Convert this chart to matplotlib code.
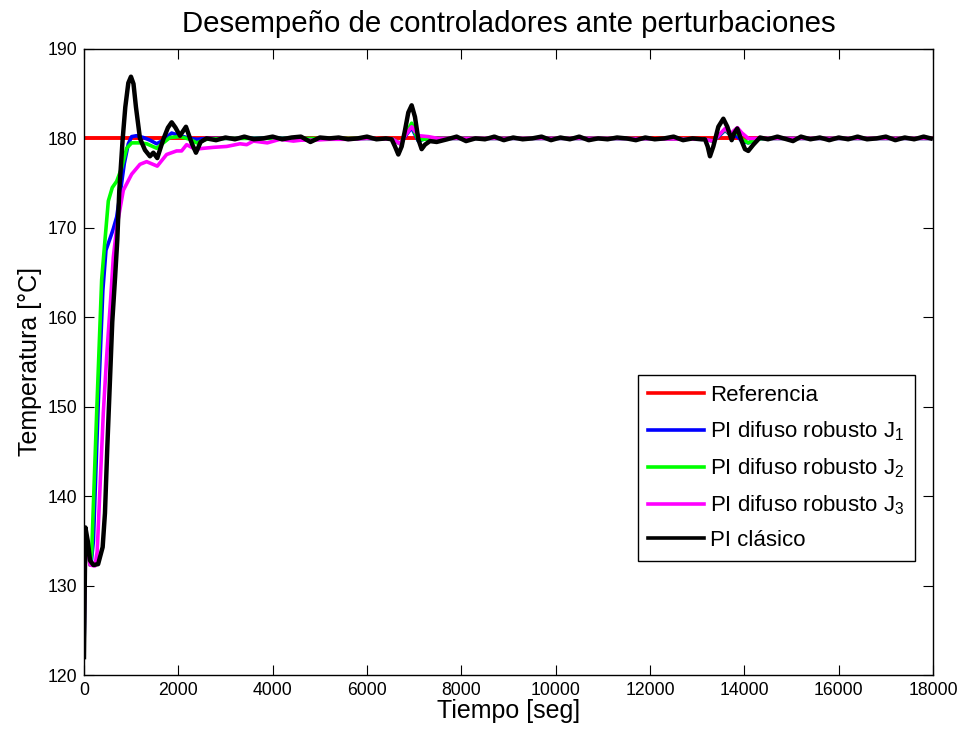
import numpy as np
import matplotlib
matplotlib.use('Agg')
import matplotlib.pyplot as plt

plt.rcParams['font.family'] = ['Liberation Sans', 'DejaVu Sans']
plt.rcParams['mathtext.fontset'] = 'custom'
plt.rcParams['mathtext.rm'] = 'Liberation Sans'
plt.rcParams['mathtext.it'] = 'Liberation Sans'

# referencia
ref_t = [0, 17950]
ref_y = [180, 180]

# PI difuso robusto J1 (azul)
j1_t = [0, 30, 80, 150, 200, 300, 400, 466, 565, 622, 693, 777, 855, 940, 1011, 1116, 1258,
        1400, 1541, 1682, 1859, 2035, 2250, 2400, 2600, 3000, 4000, 5000, 6000, 6550,
        6700, 6820, 6947, 7020, 7088, 7200, 7400, 9000, 11000, 13150, 13342, 13450,
        13590, 13700, 13850, 13950, 14083, 14250, 14500, 16000, 17950]
j1_y = [122.0, 136.0, 134.0, 132.4, 135.0, 150.0, 163.0, 167.5, 169.0, 169.9, 171.2, 174.2,
        177.2, 179.4, 180.2, 180.3, 180.1, 179.8, 179.4, 179.8, 180.6, 180.3, 180.0, 179.9,
        180.0, 180.0, 180.05, 179.95, 180.0, 179.9, 179.4, 180.3, 181.2, 180.4, 179.7,
        179.9, 180.0, 180.0, 180.0, 179.9, 179.7, 180.2, 180.9, 180.4, 180.2, 179.7,
        179.5, 179.9, 180.0, 180.0, 180.0]

# PI difuso robusto J2 (verde)
j2_t = [0, 30, 80, 127, 163, 269, 375, 445, 516, 600, 693, 799, 905, 1011, 1187, 1330,
        1541, 1682, 1823, 2035, 2247, 2388, 2600, 3000, 4000, 5000, 6000, 6550, 6700,
        6820, 6947, 7020, 7088, 7200, 7400, 9000, 11000, 13150, 13342, 13450, 13590,
        13700, 13850, 13950, 14083, 14250, 14500, 16000, 17950]
j2_y = [122.0, 136.0, 134.0, 132.3, 133.6, 149.3, 164.2, 168.6, 173.0, 174.5, 175.2,
        176.7, 178.9, 179.5, 179.5, 179.4, 178.9, 179.5, 180.1, 180.2, 179.9, 179.5,
        179.9, 180.0, 180.0, 180.0, 180.0, 179.9, 179.4, 180.5, 181.7, 180.6, 179.8,
        179.9, 180.0, 180.0, 180.0, 179.9, 179.7, 180.3, 181.0, 180.4, 180.6, 179.9,
        179.5, 179.9, 180.0, 180.0, 180.0]

# PI difuso robusto J3 (magenta)
j3_t = [0, 30, 80, 127, 233, 280, 410, 480, 565, 622, 693, 834, 1011, 1187, 1328, 1554,
        1752, 1964, 2070, 2176, 2353, 2742, 3025, 3308, 3450, 3591, 3887, 4157, 4439,
        4600, 4864, 5200, 5654, 6000, 6550, 6700, 6820, 6947, 7020, 7100, 7300, 7500,
        9000, 11000, 13150, 13342, 13450, 13590, 13700, 13850, 13950, 14083, 14250,
        14500, 16000, 17950]
j3_y = [122.0, 136.0, 134.0, 132.3, 132.2, 133.8, 149.3, 155.5, 162.0, 166.7, 170.0,
        174.2, 176.0, 177.1, 177.4, 176.9, 178.2, 178.6, 178.6, 179.3, 178.8, 179.0,
        179.1, 179.4, 179.3, 179.7, 179.5, 179.9, 179.7, 179.8, 179.8, 179.9, 179.9,
        180.0, 179.9, 179.4, 180.4, 181.3, 180.8, 180.3, 180.2, 180.0, 180.0, 180.0,
        179.9, 179.7, 180.3, 181.1, 180.5, 181.2, 180.6, 180.0, 180.0, 180.0, 180.0,
        180.0]

# PI clasico (negro)
pi_t = [0, 30, 80, 130, 200, 300, 396, 445, 495, 551, 600, 660, 706, 749, 820, 876, 940,
        996, 1050, 1102, 1187, 1293, 1399, 1470, 1554, 1682, 1780, 1859, 1940, 2035, 2162,
        2282, 2374, 2473, 2600, 2800, 3000, 3200, 3400, 3600, 3800, 4000, 4200, 4400,
        4600, 4800, 5000, 5200, 5400, 5600, 5800, 6000, 6200, 6400, 6523, 6593, 6664,
        6735, 6805, 6876, 6947, 7017, 7088, 7159, 7229, 7335, 7476, 7700, 7900, 8100,
        8300, 8500, 8700, 8900, 9100, 9300, 9500, 9700, 9900, 10100, 10300, 10500, 10700,
        10900, 11100, 11300, 11500, 11700, 11900, 12100, 12300, 12500, 12700, 12900,
        13100, 13165, 13222, 13271, 13342, 13448, 13554, 13639, 13731, 13787, 13850,
        13943, 14013, 14083, 14190, 14331, 14500, 14700, 14900, 15031, 15200, 15400,
        15600, 15800, 16000, 16200, 16400, 16600, 16800, 17000, 17200, 17400, 17600,
        17800, 17950]
pi_y = [122.0, 136.5, 135.0, 132.8, 132.3, 132.4, 134.3, 138.1, 145.5, 153.0, 159.5,
        164.5, 168.6, 174.2, 179.9, 183.5, 186.2, 186.9, 186.1, 183.5, 180.0, 178.7,
        178.0, 178.4, 177.8, 179.9, 181.2, 181.8, 181.2, 180.3, 181.3, 179.5, 178.4,
        179.6, 180.0, 179.8, 180.1, 179.9, 180.2, 179.9, 180.0, 180.2, 179.9, 180.1,
        180.2, 179.6, 180.1, 180.0, 180.1, 179.9, 180.0, 180.2, 179.9, 180.0, 179.9,
        179.1, 178.2, 179.1, 180.9, 182.9, 183.7, 182.4, 179.9, 178.8, 179.3, 179.7,
        179.6, 179.9, 180.2, 179.7, 180.0, 179.9, 180.2, 179.8, 180.1, 179.9, 180.0,
        180.2, 179.8, 180.1, 179.9, 180.2, 179.8, 180.0, 179.9, 180.1, 180.0, 179.8,
        180.1, 179.9, 180.0, 180.2, 179.8, 180.0, 179.9, 179.9, 179.1, 178.0, 179.1,
        181.3, 182.2, 181.3, 179.8, 180.6, 181.1, 179.7, 178.8, 178.6, 179.3, 180.1,
        179.9, 180.2, 179.9, 179.7, 180.2, 179.9, 180.1, 179.8, 180.1, 179.9, 180.2,
        179.9, 180.0, 180.2, 179.8, 180.1, 179.9, 180.2, 180.0]

labels = ['Referencia', 'PI difuso robusto J$_1$', 'PI difuso robusto J$_2$',
          'PI difuso robusto J$_3$', 'PI clásico']
colors = ['#ff0000', '#0000ff', '#00ff00', '#ff00ff', '#000000']
widths = [2.8, 2.6, 2.6, 2.6, 3.2]

fig = plt.figure(figsize=(9.63, 7.33), dpi=100)
ax = fig.add_axes([0.0872, 0.0791, 0.8817, 0.8541])

series = [(ref_t, ref_y), (j1_t, j1_y), (j2_t, j2_y), (j3_t, j3_y), (pi_t, pi_y)]
for (t, y), c, lw, lab in zip(series, colors, widths, labels):
    ax.plot(t, y, color=c, lw=lw, label=lab, solid_joinstyle='round')

ax.set_xlim(0, 18000)
ax.set_ylim(120, 190)
ax.set_xticks(np.arange(0, 18001, 2000))
ax.set_yticks(np.arange(120, 191, 10))
ax.tick_params(direction='in', top=True, right=True, length=7, width=0.8,
               labelsize=12.7, pad=5)
for s in ax.spines.values():
    s.set_linewidth(1.0)

ax.set_title('Desempeño de controladores ante perturbaciones', fontsize=21.2, pad=12)
ax.set_xlabel('Tiempo [seg]', fontsize=18, labelpad=0)
ax.set_ylabel('Temperatura [°C]', fontsize=18, labelpad=4)

leg = ax.legend(loc='upper left', bbox_to_anchor=(0.6525, 0.479), borderaxespad=0,
                fontsize=16, fancybox=False, framealpha=1, edgecolor='black',
                handlelength=2.5, handletextpad=0.3, borderpad=0.45, labelspacing=0.6)
leg.get_frame().set_linewidth(1.0)
for h in leg.get_lines():
    h.set_linewidth(2.6)

fig.savefig('out.png', dpi=100)
